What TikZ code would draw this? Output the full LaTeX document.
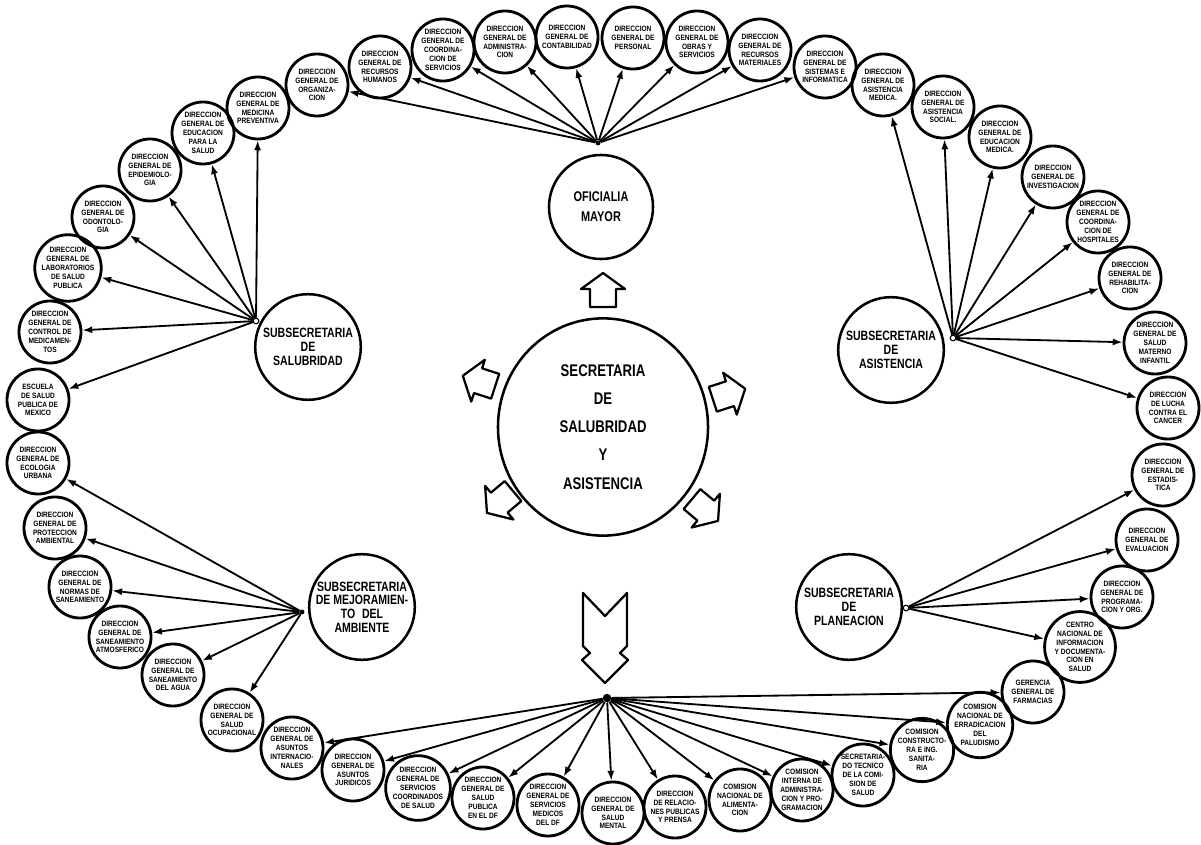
\documentclass[tikz,border=0pt]{standalone}
\usepackage{fontspec}
\setsansfont{Liberation Sans}
\newfontfamily\orgfont[FakeStretch=0.85]{Liberation Sans}
\newfontfamily\subfont[FakeStretch=0.78]{Liberation Sans}
\usetikzlibrary{arrows.meta,shapes.geometric}

\tikzset{
  unit/.style={circle, draw, line width=2pt, minimum size=1.55cm, inner sep=0pt,
    align=center, font=\orgfont\bfseries\fontsize{5.5}{6.3}\selectfont},
  subsec/.style={circle, draw, line width=1.8pt, minimum size=2.64cm, inner sep=0pt,
    align=center, font=\subfont\bfseries\fontsize{9.6}{9.8}\selectfont},
  hubdot/.style={circle, fill, inner sep=0pt, minimum size=3.5pt},
  hubring/.style={circle, draw, fill=white, line width=0.8pt, inner sep=0pt, minimum size=4pt},
  conn/.style={line width=1.3pt, -{Latex[length=7pt,width=5pt]}},
  blockarr/.style={line width=1.6pt, line join=round},
}
\newcommand{\housearrow}[3]{%
  \draw[blockarr, shift={(#1,#2)}, rotate=#3]
    (17,0) -- (1,22) -- (1,13) -- (-17,13) -- (-17,-13) -- (1,-13) -- (1,-22) -- cycle;}

\begin{document}
\begin{tikzpicture}[x=0.025cm, y=-0.025cm]
    \useasboundingbox (0,0) rectangle (1201,845);

    % secretaria y oficialia
    \node[ellipse, draw, line width=1.8pt, minimum width=5.25cm, minimum height=5.43cm,
      align=center, font=\subfont\bfseries\fontsize{12}{20}\selectfont]
      (ssa) at (603,427) {SECRETARIA\\DE\\SALUBRIDAD\\Y\\ASISTENCIA};
    \node[circle, draw, line width=1.8pt, minimum size=2.6cm, align=center,
      font=\subfont\bfseries\fontsize{10}{14}\selectfont]
      (ofi) at (601,207) {OFICIALIA\\MAYOR};

    % subsecretarias
    \node[subsec] (sal) at (308,347) {SUBSECRETARIA\\DE\\SALUBRIDAD};
    \node[subsec] (asi) at (891,350) {SUBSECRETARIA\\DE\\ASISTENCIA};
    \node[subsec] (amb) at (362,607) {SUBSECRETARIA\\DE MEJORAMIEN-\\TO\enspace DEL\\AMBIENTE};
    \node[subsec] (pla) at (849,607) {SUBSECRETARIA\\DE\\PLANEACION};

    % flechas de bloque
    \housearrow{603}{290}{90}
    \housearrow{479}{381}{162}
    \housearrow{729}{394}{18}
    \housearrow{500}{502}{220}
    \housearrow{705}{510}{-40}
    \draw[blockarr] (583,593) -- (605,616) -- (627,593) -- (627,646) -- (620,653)
      -- (628,660) -- (605,683) -- (582,660) -- (590,653) -- (583,646) -- cycle;

    % dependencias de la oficialia mayor
    \node[unit] (ofi1) at (317,85) {DIRECCION\\GENERAL DE\\ORGANIZA-\\CION};
    \node[unit] (ofi2) at (380,67) {DIRECCION\\GENERAL DE\\RECURSOS\\HUMANOS};
    \node[unit] (ofi3) at (443,50) {DIRECCION\\GENERAL DE\\COORDINA-\\CION DE\\SERVICIOS};
    \node[unit] (ofi4) at (505,42) {DIRECCION\\GENERAL DE\\ADMINISTRA-\\CION};
    \node[unit] (ofi5) at (567,37) {DIRECCION\\GENERAL DE\\CONTABILIDAD};
    \node[unit] (ofi6) at (633,38) {DIRECCION\\GENERAL DE\\PERSONAL};
    \node[unit] (ofi7) at (697,42) {DIRECCION\\GENERAL DE\\OBRAS Y\\SERVICIOS};
    \node[unit] (ofi8) at (760,50) {DIRECCION\\GENERAL DE\\RECURSOS\\MATERIALES};
    \node[unit] (ofi9) at (825,67) {DIRECCION\\GENERAL DE\\SISTEMAS E\\INFORMATICA};

    % salubridad
    \node[unit] (sal1) at (258,108) {DIRECCION\\GENERAL DE\\MEDICINA\\PREVENTIVA};
    \node[unit] (sal2) at (203,133) {DIRECCION\\GENERAL DE\\EDUCACION\\PARA LA\\SALUD};
    \node[unit] (sal3) at (150,170) {DIRECCION\\GENERAL DE\\EPIDEMIOLO-\\GIA};
    \node[unit] (sal4) at (103,217) {DIRECCION\\GENERAL DE\\ODONTOLO-\\GIA};
    \node[unit] (sal5) at (68,268) {DIRECCION\\GENERAL DE\\LABORATORIOS\\DE SALUD\\PUBLICA};
    \node[unit] (sal6) at (50,332) {DIRECCION\\GENERAL DE\\CONTROL DE\\MEDICAMEN-\\TOS};
    \node[unit] (sal7) at (38,400) {ESCUELA\\DE SALUD\\PUBLICA DE\\MEXICO};

    % mejoramiento del ambiente
    \node[unit] (amb1) at (38,463) {DIRECCION\\GENERAL DE\\ECOLOGIA\\URBANA};
    \node[unit] (amb2) at (55,528) {DIRECCION\\GENERAL DE\\PROTECCION\\AMBIENTAL};
    \node[unit] (amb3) at (80,587) {DIRECCION\\GENERAL DE\\NORMAS DE\\SANEAMIENTO};
    \node[unit] (amb4) at (120,637) {DIRECCION\\GENERAL DE\\SANEAMIENTO\\ATMOSFERICO};
    \node[unit] (amb5) at (173,675) {DIRECCION\\GENERAL DE\\SANEAMIENTO\\DEL AGUA};
    \node[unit] (amb6) at (232,720) {DIRECCION\\GENERAL DE\\SALUD\\OCUPACIONAL};

    % asistencia
    \node[unit] (asi1) at (883,85) {DIRECCION\\GENERAL DE\\ASISTENCIA\\MEDICA.};
    \node[unit] (asi2) at (943,107) {DIRECCION\\GENERAL DE\\ASISTENCIA\\SOCIAL.};
    \node[unit] (asi3) at (1000,137) {DIRECCION\\GENERAL DE\\EDUCACION\\MEDICA.};
    \node[unit] (asi4) at (1053,177) {DIRECCION\\GENERAL DE\\INVESTIGACION};
    \node[unit] (asi5) at (1098,222) {DIRECCION\\GENERAL DE\\COORDINA-\\CION DE\\HOSPITALES};
    \node[unit] (asi6) at (1130,278) {DIRECCION\\GENERAL DE\\REHABILITA-\\CION};
    \node[unit] (asi7) at (1155,343) {DIRECCION\\GENERAL DE\\SALUD\\MATERNO\\INFANTIL};
    \node[unit] (asi8) at (1168,408) {DIRECCION\\DE LUCHA\\CONTRA EL\\CANCER};

    % planeacion
    \node[unit] (pla1) at (1163,475) {DIRECCION\\GENERAL DE\\ESTADIS-\\TICA};
    \node[unit] (pla2) at (1147,540) {DIRECCION\\GENERAL DE\\EVALUACION};
    \node[unit] (pla3) at (1122,597) {DIRECCION\\GENERAL DE\\PROGRAMA-\\CION Y ORG.};
    \node[unit] (pla4) at (1080,647) {CENTRO\\NACIONAL DE\\INFORMACION\\Y DOCUMENTA-\\CION EN\\SALUD};

    % dependencias directas
    \node[unit] (dep1) at (292,748) {DIRECCION\\GENERAL DE\\ASUNTOS\\INTERNACIO-\\NALES};
    \node[unit] (dep2) at (353,770) {DIRECCION\\GENERAL DE\\ASUNTOS\\JURIDICOS};
    \node[unit] (dep3) at (418,788) {DIRECCION\\GENERAL DE\\SERVICIOS\\COORDINADOS\\DE SALUD};
    \node[unit] (dep4) at (483,798) {DIRECCION\\GENERAL DE\\SALUD\\PUBLICA\\EN EL DF};
    \node[unit] (dep5) at (548,805) {DIRECCION\\GENERAL DE\\SERVICIOS\\MEDICOS\\DEL DF};
    \node[unit] (dep6) at (613,813) {DIRECCION\\GENERAL DE\\SALUD\\MENTAL};
    \node[unit] (dep7) at (675,807) {DIRECCION\\DE RELACIO-\\NES PUBLICAS\\Y PRENSA};
    \node[unit] (dep8) at (740,800) {COMISION\\NACIONAL DE\\ALIMENTA-\\CION};
    \node[unit] (dep9) at (802,790) {COMISION\\INTERNA DE\\ADMINISTRA-\\CION Y PRO-\\GRAMACION};
    \node[unit] (dep10) at (863,775) {SECRETARIA-\\DO TECNICO\\DE LA COMI-\\SION DE\\SALUD};
    \node[unit] (dep11) at (922,750) {COMISION\\CONSTRUCTO-\\RA E ING.\\SANITA-\\RIA};
    \node[unit] (dep12) at (980,725) {COMISION\\NACIONAL DE\\ERRADICACION\\DEL\\PALUDISMO};
    \node[unit] (dep13) at (1033,692) {GERENCIA\\GENERAL DE\\FARMACIAS};

    % puntos de reparto
    \node[hubdot] (hofi) at (598,143) {};
    \node[hubring] (hsal) at (256,321) {};
    \node[hubring] (hasi) at (953,338) {};
    \node[hubdot] (hamb) at (302,612) {};
    \node[hubring] (hpla) at (906,608) {};
    \node[hubdot, minimum size=6pt] (hdep) at (607,698) {};

    \foreach \i in {1,...,9} \draw[conn] (hofi) -- (ofi\i);
    \foreach \i in {1,...,7} \draw[conn] (hsal) -- (sal\i);
    \foreach \i in {1,...,6} \draw[conn] (hamb) -- (amb\i);
    \foreach \i in {1,...,8} \draw[conn] (hasi) -- (asi\i);
    \foreach \i in {1,...,4} \draw[conn] (hpla) -- (pla\i);
    \foreach \i in {1,...,13} \draw[conn] (hdep) -- (dep\i);
\end{tikzpicture}
\end{document}
